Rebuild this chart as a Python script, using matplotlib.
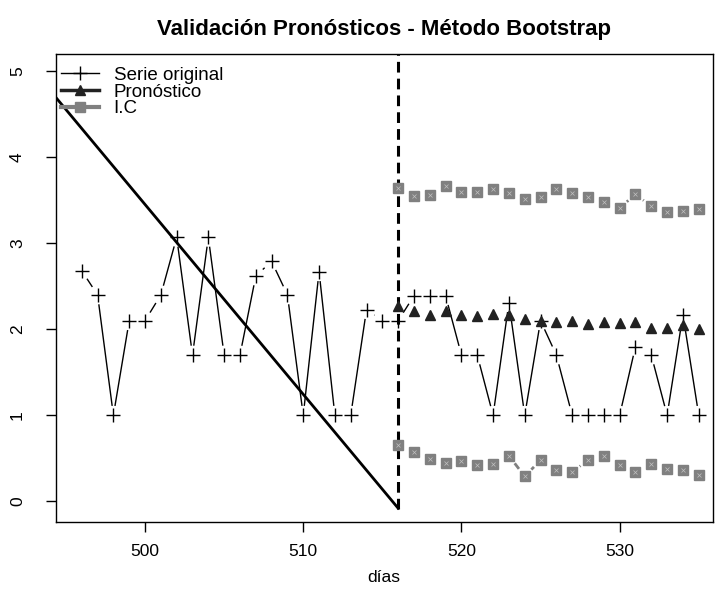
import numpy as np
import matplotlib
matplotlib.use("Agg")
import matplotlib.pyplot as plt
from matplotlib.collections import LineCollection
from matplotlib.lines import Line2D

plt.rcParams['font.family'] = ['Liberation Sans', 'DejaVu Sans']

# ---- data ----
dias_obs = list(range(496, 536))
serie_original = [2.68, 2.40, 1.00, 2.10, 2.10, 2.40, 3.07, 1.70, 3.07, 1.70,
                  1.70, 2.62, 2.79, 2.40, 1.00, 2.67, 1.00, 1.00, 2.23, 2.10,
                  2.10, 2.39, 2.39, 2.39, 1.70, 1.70, 1.00, 2.31, 1.00, 2.10,
                  1.70, 1.00, 1.00, 1.00, 1.00, 1.80, 1.70, 1.00, 2.17, 1.00]
dias_pron = list(range(516, 536))
pronostico = [2.27, 2.21, 2.17, 2.21, 2.17, 2.15, 2.18, 2.17, 2.12, 2.10,
              2.09, 2.10, 2.06, 2.08, 2.07, 2.08, 2.02, 2.02, 2.05, 2.00]
ic_sup = [3.64, 3.55, 3.56, 3.67, 3.60, 3.60, 3.63, 3.58, 3.52, 3.54,
          3.63, 3.58, 3.54, 3.48, 3.41, 3.57, 3.43, 3.36, 3.37, 3.40]
ic_inf = [0.65, 0.57, 0.49, 0.45, 0.47, 0.42, 0.44, 0.53, 0.29, 0.48,
          0.36, 0.34, 0.48, 0.53, 0.42, 0.34, 0.43, 0.38, 0.37, 0.31]
recta_x = [494.34, 516.0]
recta_y = [4.70, -0.08]
corte_x = 516
corte_y = [-0.09, 5.3]
x_ticks = [500, 510, 520, 530]
y_ticks = [0, 1, 2, 3, 4, 5]

W, H = 715, 597
fig = plt.figure(figsize=(W / 100, H / 100), dpi=100)
ax = fig.add_axes([55.5 / W, (H - 522) / H, (713 - 55.5) / W, (522 - 54) / H])
ax.set_xlim(494.34, 535.9)
ax.set_ylim(-0.24, 5.2)

GRAY = '#808080'

def type_b(x, y, gap, color, lw):
    """R type='b' connecting segments with gaps around points."""
    pts = ax.transData.transform(np.column_stack([x, y]))
    inv = ax.transData.inverted()
    segs = []
    for p0, p1 in zip(pts[:-1], pts[1:]):
        d = p1 - p0
        L = np.hypot(*d)
        if L <= 2 * gap:
            continue
        u = d / L
        a = p0 + u * gap
        b = p1 - u * gap
        segs.append(inv.transform(np.array([a, b])))
    ax.add_collection(LineCollection(segs, colors=color, linewidths=lw, zorder=2))

# series original
type_b(dias_obs, serie_original, 9.5, 'black', 1.0)
ax.plot(dias_obs, serie_original, ls='none', marker='+', ms=10, mew=1.0, color='black', zorder=3)

# pronostico
type_b(dias_pron, pronostico, 9.5, '#222222', 2.0)
ax.plot(dias_pron, pronostico, ls='none', marker='^', ms=7, color='#222222', zorder=3)

# intervals
for serie in (ic_sup, ic_inf):
    type_b(dias_pron, serie, 9.5, GRAY, 2.0)
    ax.plot(dias_pron, serie, ls='none', marker='s', ms=7.5, color=GRAY, mec=GRAY, zorder=3)
    ax.plot(dias_pron, serie, ls='none', marker='x', ms=3.5, mew=0.5, color='#c0c0c0', zorder=4)

# diagonal line and cut line
ax.plot(recta_x, recta_y, color='black', lw=2.0, zorder=2)
ax.plot([corte_x, corte_x], corte_y, color='black', lw=2.2, ls=(0, (3.5, 2)), zorder=2, clip_on=True)

# axes styling (R base look)
for s in ax.spines.values():
    s.set_linewidth(1.0)
ax.set_xticks(x_ticks)
ax.set_yticks(y_ticks)
ax.tick_params(direction='out', length=7, width=1, labelsize=12.5)
ax.tick_params(axis='x', pad=9)
ax.tick_params(axis='y', pad=15)
for lab in ax.get_yticklabels():
    lab.set_rotation(90)
    lab.set_va('center')

ax.set_title('Validación Pronósticos - Método Bootstrap', fontsize=16,
             fontweight='bold', pad=14)
ax.set_xlabel('días', fontsize=12.5, labelpad=8)

handles = [
    Line2D([], [], color='black', lw=1.0, marker='+', ms=10, mew=1.0),
    Line2D([], [], color='#222222', lw=2.5, marker='^', ms=7),
    Line2D([], [], color=GRAY, lw=3.0, marker='s', ms=7.5),
]
ax.legend(handles, ['Serie original', 'Pronóstico', 'I.C'], loc='upper left',
          bbox_to_anchor=(0.0, 0.985), frameon=False, fontsize=13.5,
          handlelength=2.0, handletextpad=0.8, labelspacing=-0.02, borderaxespad=0.1,
          borderpad=0.2)

fig.savefig('out.png', dpi=100)
